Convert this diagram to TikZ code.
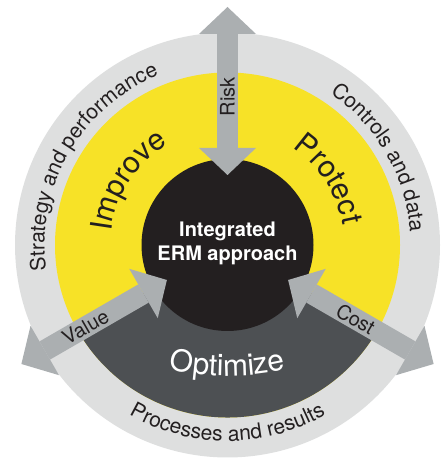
\documentclass[tikz,border=0pt]{standalone}
\usepackage{fontspec}
\setmainfont{TeX Gyre Heros}
\usepackage{xcolor}
\usepackage{tikz}
\usetikzlibrary{calc,arrows.meta,decorations.text}
\definecolor{ringgray}{HTML}{DEDFDF}
\definecolor{ermyellow}{HTML}{F7E227}
\definecolor{optgray}{HTML}{4D5053}
\definecolor{core}{HTML}{231F20}
\definecolor{flowgray}{HTML}{ABAFB1}
\definecolor{ink}{HTML}{231F20}
\newcommand\ringfont{\fontsize{21}{25}\selectfont}
\newcommand\flowfont{\fontsize{20}{24}\selectfont}
\newcommand\segfont{\fontsize{30}{36}\selectfont}
\tikzset{
  flow/.style={draw=flowgray, line width=21pt,
    {Triangle[width=57pt,length=27pt,line width=0pt]}-{Triangle[width=57pt,length=27pt,line width=0pt]}},
  flowlab/.style={text=ink, font=\flowfont, inner sep=0pt},
  ringtext/.style={decorate, decoration={text along path, text align=center,
    text color=ink, text={|\ringfont|#1}}},
  segtext/.style={decorate, decoration={text along path, text align=center,
    text color=ink, text={|\segfont|#1}}},
  opttext/.style={decorate, decoration={text along path, text align=center,
    text color=white, text={|\segfont|#1}}},
  corelab/.style={text=white, font=\fontsize{20}{24}\selectfont\bfseries, align=center}
}
\begin{document}
\begin{tikzpicture}[x=1pt, y=1pt]
  \useasboundingbox (0,0) rectangle (445,460);
  \coordinate (C) at (227.5,215);

  % rings and segments
  \fill[ringgray] (C) circle (212.5);
  \fill[ermyellow] (C) circle (172.5);
  \fill[optgray] (C) -- ($(C)+(210:172.5)$) arc[start angle=210, end angle=330, radius=172.5] -- cycle;
  \fill[core] (C) circle (86);

  % arrows
  \coordinate (risk in) at ($(C)+(90:70)$);
  \coordinate (risk out) at ($(C)+(90:238)$);
  \coordinate (value in) at ($(C)+(210:70)$);
  \coordinate (value out) at ($(C)+(210:238)$);
  \coordinate (cost in) at ($(C)+(330:70)$);
  \coordinate (cost out) at ($(C)+(330:238)$);
  \draw[flow] (risk in) -- (risk out);
  \draw[flow] (value in) -- (value out);
  \draw[flow] (cost in) -- (cost out);
  \node[flowlab, rotate=90] (risk) at ($(C)+(90:148)$) {Risk};
  \node[flowlab, rotate=30] (value) at ($(C)+(210:164)$) {Value};
  \node[flowlab, rotate=-30] (cost) at ($(C)+(330:148)$) {Cost};

  % centre
  \node[corelab] (erm) at (227.5,217) {Integrated\\ERM approach};

  % curved labels
  \path[ringtext={Strategy and performance}] ($(C)+(200:183)$) arc[start angle=200, end angle=100, radius=183];
  \path[ringtext={Controls and data}] ($(C)+(80:183)$) arc[start angle=80, end angle=-20, radius=183];
  \path[ringtext={Processes and results}] ($(C)+(220:196)$) arc[start angle=220, end angle=320, radius=196];
  \path[segtext={Improve}] ($(C)+(197:117)$) arc[start angle=197, end angle=97, radius=117];
  \path[segtext={Protect}] ($(C)+(83:117)$) arc[start angle=83, end angle=-17, radius=117];
  \coordinate (O) at (227.5,344);
  \path[opttext={Optimize}] ($(O)+(250:260)$) arc[start angle=250, end angle=290, radius=260];
\end{tikzpicture}
\end{document}
